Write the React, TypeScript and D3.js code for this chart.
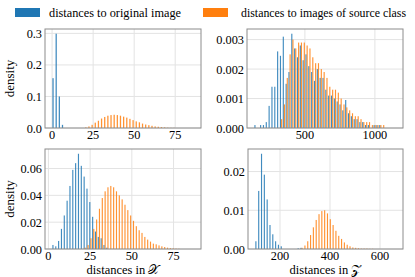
import * as d3 from "d3";

// shared bin layout per panel: [first edge, bin width]
const binsTL = { lo: 0, w: 1.92, n: 45 };
const binsTR = { lo: 137, w: 20.26, n: 50 };
const binsBL = { lo: 2.2, w: 1.7, n: 50 };
const binsBR = { lo: 100.2, w: 11.27, n: 50 };

// densities, one value per bin (missing = 0)
const origTL = [0.158, 0.299, 0.1, 0.01];
const srcTL = [
  0, 0, 0, 0, 0, 0, 0, 0, 0, 0,
  0.002, 0.005, 0.01, 0.017, 0.023, 0.03, 0.035, 0.039, 0.041, 0.042,
  0.041, 0.039, 0.036, 0.033, 0.029, 0.025, 0.021, 0.018, 0.014, 0.011,
  0.009, 0.007, 0.005, 0.004, 0.003, 0.002, 0.001, 0.0005, 0.0005,
];

const origTR = [
  0.0001, 0, 0.0001, 0.0001, 0.0002, 0.00075, 0.0014, 0.0014, 0.0026, 0.00245,
  0.0031, 0.0015, 0.0019, 0.0032, 0.0027, 0.0024, 0.0028, 0.0023, 0.0025, 0.0021,
  0.0019, 0.0016, 0.002, 0.0017, 0.0017, 0.0013, 0.0011, 0.0011, 0.001, 0.0009,
  0.0008, 0.0006, 0.00095, 0.0005, 0.0004, 0.0003, 0.0003, 0.0002, 0.0002, 0.0001,
  0.0001, 0, 0.0001, 0.0001, 0.0001,
];
const srcTR = [
  0, 0, 0, 0, 0, 0, 0, 0, 0, 0.0003,
  0.0008, 0.0017, 0.0025, 0.003, 0.0027, 0.0029, 0.0029, 0.0029, 0.0028, 0.0027,
  0.0024, 0.0022, 0.0022, 0.002, 0.0019, 0.0017, 0.0014, 0.0013, 0.0013, 0.0012,
  0.001, 0.0008, 0.0007, 0.0006, 0.0005, 0.0004, 0.0004, 0.0003, 0.0002, 0.0002,
  0.0002, 0.0001, 0.0001, 0.0001, 0.0001, 0.0001,
];

const origBL = [
  0.003, 0.002, 0.006, 0.015, 0.025, 0.036, 0.047, 0.059, 0.064, 0.071,
  0.062, 0.054, 0.045, 0.035, 0.024, 0.013, 0.009, 0.008, 0.003, 0.001,
];
const srcBL = [
  0, 0, 0, 0, 0, 0, 0, 0, 0, 0,
  0, 0.001, 0.003, 0.008, 0.015, 0.022, 0.03, 0.038, 0.043, 0.046,
  0.047, 0.046, 0.043, 0.04, 0.037, 0.033, 0.029, 0.025, 0.021, 0.017,
  0.014, 0.012, 0.009, 0.007, 0.0055, 0.004, 0.0035, 0.0027, 0.002, 0.0015,
  0.001, 0.0007, 0.0005, 0.0003, 0.0002,
];

const origBR = [
  0.002, 0.015, 0.0246, 0.0192, 0.0128, 0.0062, 0.0038, 0.002, 0.0011, 0.0007,
  0, 0, 0, 0, 0, 0.0002, 0.0003,
];
const srcBR = [
  0, 0, 0, 0, 0, 0, 0, 0, 0, 0,
  0, 0, 0, 0, 0, 0, 0.0003, 0.0009, 0.002, 0.0036,
  0.0056, 0.0075, 0.009, 0.0098, 0.01, 0.0092, 0.0077, 0.0062, 0.0047, 0.0034,
  0.0026, 0.0017, 0.0011, 0.0007, 0.0004, 0.0003, 0.0002, 0.0001, 0.0001, 0.0001,
  0.00005, 0.00005,
];

const xTicksTL = [0, 25, 50, 75];
const xTicksTR = [500, 1000];
const xTicksBL = [0, 25, 50, 75];
const xTicksBR = [200, 400, 600];
const yTicksTL = [0, 0.1, 0.2, 0.3];
const yTicksTR = [0, 0.001, 0.002, 0.003];
const yTicksBL = [0, 0.02, 0.04, 0.06];
const yTicksBR = [0, 0.01, 0.02];

const legendLabels = ["distances to original image", "distances to images of source class"];

const BLUE = "#1f77b4";
const ORANGE = "#ff7f0e";
const FONT = "'Liberation Serif', 'DejaVu Serif', serif";
const FS = 12.3;

type Bins = { lo: number; w: number; n: number };

interface PanelProps {
  x0: number; x1: number; y0: number; y1: number;
  bins: Bins; orig: number[]; src: number[];
  xTicks: number[]; yTicks: number[]; yFmt: string;
  ylabel?: string; xlabel?: string;
}

function Panel({ x0, x1, y0, y1, bins, orig, src, xTicks, yTicks, yFmt, ylabel, xlabel }: PanelProps) {
  const hi = bins.lo + bins.w * bins.n;
  const pad = (hi - bins.lo) * 0.05;
  const x = d3.scaleLinear().domain([bins.lo - pad, hi + pad]).range([x0, x1]);
  const ymax = (d3.max([...orig, ...src]) as number) * 1.05;
  const y = d3.scaleLinear().domain([0, ymax]).range([y1, y0]);
  const fmt = d3.format(yFmt);
  const bw = x(bins.lo + bins.w * 0.4) - x(bins.lo);

  const bars = (vals: number[], off: number, color: string) =>
    vals.map((v, i) =>
      v > 0 ? (
        <rect key={color + i}
          x={x(bins.lo + bins.w * (i + off))}
          y={y(v)} width={bw} height={y(0) - y(v)}
          fill={color} opacity={0.85} />
      ) : null
    );

  return (
    <g>
      {xTicks.map((t) => (
        <line key={"gx" + t} x1={x(t)} x2={x(t)} y1={y0} y2={y1} stroke="#e3e3e3" strokeWidth={1} />
      ))}
      {yTicks.map((t) => (
        <line key={"gy" + t} x1={x0} x2={x1} y1={y(t)} y2={y(t)} stroke="#e3e3e3" strokeWidth={1} />
      ))}
      {bars(orig, 0.1, BLUE)}
      {bars(src, 0.5, ORANGE)}
      <rect x={x0} y={y0} width={x1 - x0} height={y1 - y0} fill="none" stroke="#8c8c8c" strokeWidth={1} />
      {xTicks.map((t) => (
        <text key={"tx" + t} x={x(t)} y={y1 + 10.5} textAnchor="middle" fontSize={FS} fontFamily={FONT}>{t}</text>
      ))}
      {yTicks.map((t) => (
        <text key={"ty" + t} x={x0 - 3} y={y(t) + 4.5} textAnchor="end" fontSize={FS} fontFamily={FONT}>{fmt(t)}</text>
      ))}
      {ylabel && (
        <text transform={`translate(${x0 - 31},${(y0 + y1) / 2}) rotate(-90)`} textAnchor="middle" fontSize={13} fontFamily={FONT}>{ylabel}</text>
      )}
      {xlabel && (
        <text x={(x0 + x1) / 2} y={y1 + 24.5} textAnchor="middle" fontSize={12.5} fontFamily={FONT}>{xlabel}</text>
      )}
    </g>
  );
}

export default function App() {
  return (
    <svg width={415} height={277} style={{ position: "absolute", left: 0, top: 0, background: "#fff" }}>
      <rect x={15} y={8} width={25} height={9} fill={BLUE} />
      <text x={49} y={17} fontSize={12.5} fontFamily={FONT} textLength={132} lengthAdjust="spacingAndGlyphs">{legendLabels[0]}</text>
      <rect x={203} y={8} width={25} height={9} fill={ORANGE} />
      <text x={241} y={17} fontSize={12} fontFamily={FONT} textLength={165} lengthAdjust="spacingAndGlyphs">{legendLabels[1]}</text>

      <Panel x0={45} x1={201} y0={29} y1={128} bins={binsTL} orig={origTL} src={srcTL}
        xTicks={xTicksTL} yTicks={yTicksTL} yFmt=".1f" ylabel="density" />
      <Panel x0={247} x1={403} y0={29} y1={128} bins={binsTR} orig={origTR} src={srcTR}
        xTicks={xTicksTR} yTicks={yTicksTR} yFmt=".3f" />
      <Panel x0={45} x1={201} y0={149} y1={249} bins={binsBL} orig={origBL} src={srcBL}
        xTicks={xTicksBL} yTicks={yTicksBL} yFmt=".2f" ylabel="density" xlabel="distances in 𝒳" />
      <Panel x0={248} x1={403} y0={149} y1={249} bins={binsBR} orig={origBR} src={srcBR}
        xTicks={xTicksBR} yTicks={yTicksBR} yFmt=".2f" xlabel="distances in 𝒵" />
    </svg>
  );
}
